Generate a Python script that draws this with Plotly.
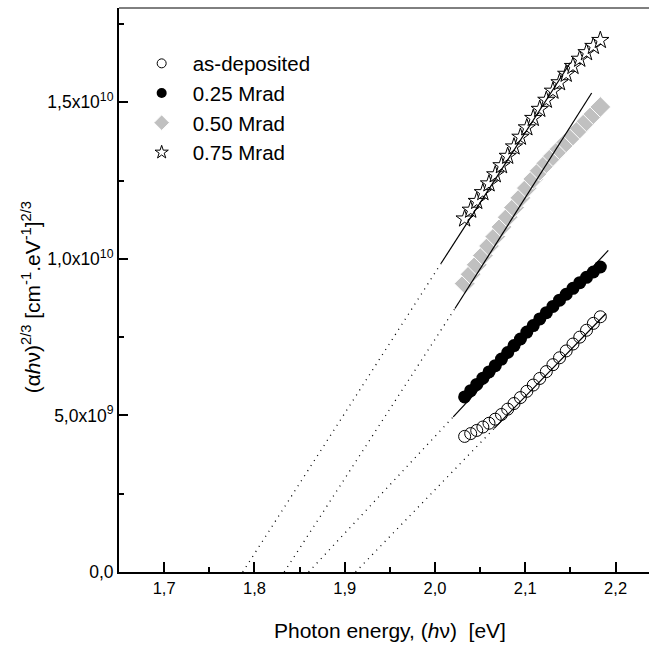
import plotly.graph_objects as go

# Photon energies (eV) of the measured points
energy = [2.0328, 2.0395, 2.0462, 2.0530, 2.0598, 2.0667, 2.0736, 2.0805, 2.0875, 2.0946, 2.1017,
          2.1088, 2.1160, 2.1233, 2.1306, 2.1379, 2.1453, 2.1528, 2.1603, 2.1678, 2.1754, 2.1831]

# (alpha h nu)^(2/3) values, in units of 1e9
as_deposited = [4.33, 4.42, 4.52, 4.63, 4.75, 4.88, 5.03, 5.20, 5.38, 5.57, 5.77,
                5.97, 6.18, 6.40, 6.62, 6.84, 7.06, 7.28, 7.50, 7.72, 7.94, 8.15]
mrad_025 = [5.59, 5.79, 5.99, 6.19, 6.39, 6.59, 6.80, 7.01, 7.23, 7.44, 7.66,
            7.87, 8.08, 8.28, 8.48, 8.68, 8.87, 9.06, 9.24, 9.41, 9.58, 9.74]
mrad_050 = [9.21, 9.51, 9.81, 10.11, 10.41, 10.71, 11.02, 11.33, 11.64, 11.95, 12.26,
            12.55, 12.81, 13.05, 13.28, 13.50, 13.72, 13.94, 14.16, 14.39, 14.62, 14.85]
mrad_075 = [11.28, 11.56, 11.84, 12.12, 12.40, 12.69, 12.98, 13.28, 13.58, 13.89, 14.19,
            14.49, 14.78, 15.07, 15.36, 15.63, 15.90, 16.15, 16.38, 16.59, 16.79, 16.98]

# Linear fits: [x-intercept, start of solid part, end of solid part]
fit_x_as_dep = [1.912, 2.0656, 2.1893]
fit_y_as_dep = [0.0, 4.585, 8.255]
fit_x_025 = [1.860, 2.0202, 2.1919]
fit_y_025 = [0.0, 4.955, 10.27]
fit_x_050 = [1.833, 2.0221, 2.1735]
fit_y_050 = [0.0, 8.414, 15.294]
fit_x_075 = [1.787, 2.0066, 2.150]
fit_y_075 = [0.0, 9.85, 16.27]

series_names = ["as-deposited", "0.25 Mrad", "0.50 Mrad", "0.75 Mrad"]

y_tickvals = [0, 5e9, 1e10, 1.5e10]
y_ticktext = ["0,0", "5,0x10<sup>9</sup>", "1,0x10<sup>10</sup>", "1,5x10<sup>10</sup>"]
y_minor = [2.5e9, 7.5e9, 1.25e10, 1.75e10]
x_tickvals = [1.7, 1.8, 1.9, 2.0, 2.1, 2.2]

E9 = 1e9
def scale(v):
    return [a * E9 for a in v]

fig = go.Figure()

styles = [
    dict(symbol="circle-open", color="black", line=dict(color="black", width=1)),
    dict(symbol="circle", color="black", line=dict(color="black", width=0)),
    dict(symbol="diamond", color="#c0c0c0", line=dict(color="white", width=1)),
    dict(symbol="star", color="white", line=dict(color="black", width=1)),
]
data_sizes = [12, 13, 16, 13]
legend_sizes = [9, 10, 12, 10]
series_values = [as_deposited, mrad_025, mrad_050, mrad_075]

for name, vals, st, ds in zip(series_names, series_values, styles, data_sizes):
    fig.add_trace(go.Scatter(x=energy, y=scale(vals), mode="markers", name=name,
                             marker=dict(size=ds, **st), showlegend=False))

# fit lines (dotted extrapolation + solid), drawn over the markers
for fx, fy in [(fit_x_as_dep, fit_y_as_dep), (fit_x_025, fit_y_025),
               (fit_x_050, fit_y_050), (fit_x_075, fit_y_075)]:
    fig.add_trace(go.Scatter(x=fx[:2], y=scale(fy[:2]), mode="lines",
                             line=dict(color="black", width=1.3, dash="1px,5px"),
                             showlegend=False, hoverinfo="skip"))
    fig.add_trace(go.Scatter(x=fx[1:], y=scale(fy[1:]), mode="lines",
                             line=dict(color="black", width=1.2),
                             showlegend=False, hoverinfo="skip"))

# legend entries (smaller symbols, as in the reference legend)
for name, st, ls in zip(series_names, styles, legend_sizes):
    fig.add_trace(go.Scatter(x=[None], y=[None], mode="markers", name=name,
                             marker=dict(size=ls, **st), showlegend=True))

fig.update_layout(
    width=649, height=645,
    margin=dict(l=119, r=0, t=8, b=73),
    paper_bgcolor="white", plot_bgcolor="white",
    font=dict(family="Liberation Sans, Arial, sans-serif", color="black", size=16),
    separators=",.",
    showlegend=True,
    legend=dict(x=0.022, y=0.937, xanchor="left", yanchor="top",
                font=dict(size=20.5), itemwidth=52, bgcolor="rgba(0,0,0,0)",
                tracegroupgap=0),
    xaxis=dict(range=[1.65, 2.237], showline=True, linewidth=2, linecolor="black",
               showgrid=False, zeroline=False, ticks="inside", ticklen=10, tickwidth=2,
               tickcolor="black", tickvals=x_tickvals, tickformat=".1f",
               minor=dict(dtick=0.05, tick0=1.65, ticks="inside", ticklen=5, tickwidth=2,
                          tickcolor="black", showgrid=False),
               tickfont=dict(size=16.5)),
    yaxis=dict(range=[0, 1.801e10], showline=True, linewidth=2, linecolor="black",
               showgrid=False, zeroline=False, ticks="inside", ticklen=9, tickwidth=2,
               tickcolor="black", tickvals=y_tickvals, ticktext=y_ticktext,
               minor=dict(tickvals=y_minor, ticks="inside", ticklen=5, tickwidth=2,
                          tickcolor="black", showgrid=False),
               tickfont=dict(size=17.5)),
    shapes=[dict(type="line", xref="paper", yref="paper", x0=0, x1=1, y0=1, y1=1,
                 line=dict(color="black", width=1))],
    annotations=[
        dict(text="Photon energy, (<i>h</i>ν)\u00a0\u00a0[eV]", xref="paper", yref="paper",
             x=0.512, y=-0.103, xanchor="center", yanchor="middle", showarrow=False,
             font=dict(size=21)),
        dict(text="(α<i>h</i>ν)<sup>2/3</sup> [cm<sup>-1</sup>.eV<sup>-1</sup>]<sup>2/3</sup>",
             xref="paper", yref="paper", x=-0.166, y=0.487, xanchor="center", yanchor="middle",
             textangle=-90, showarrow=False, font=dict(size=21)),
    ],
)

fig.write_html("out.html")
